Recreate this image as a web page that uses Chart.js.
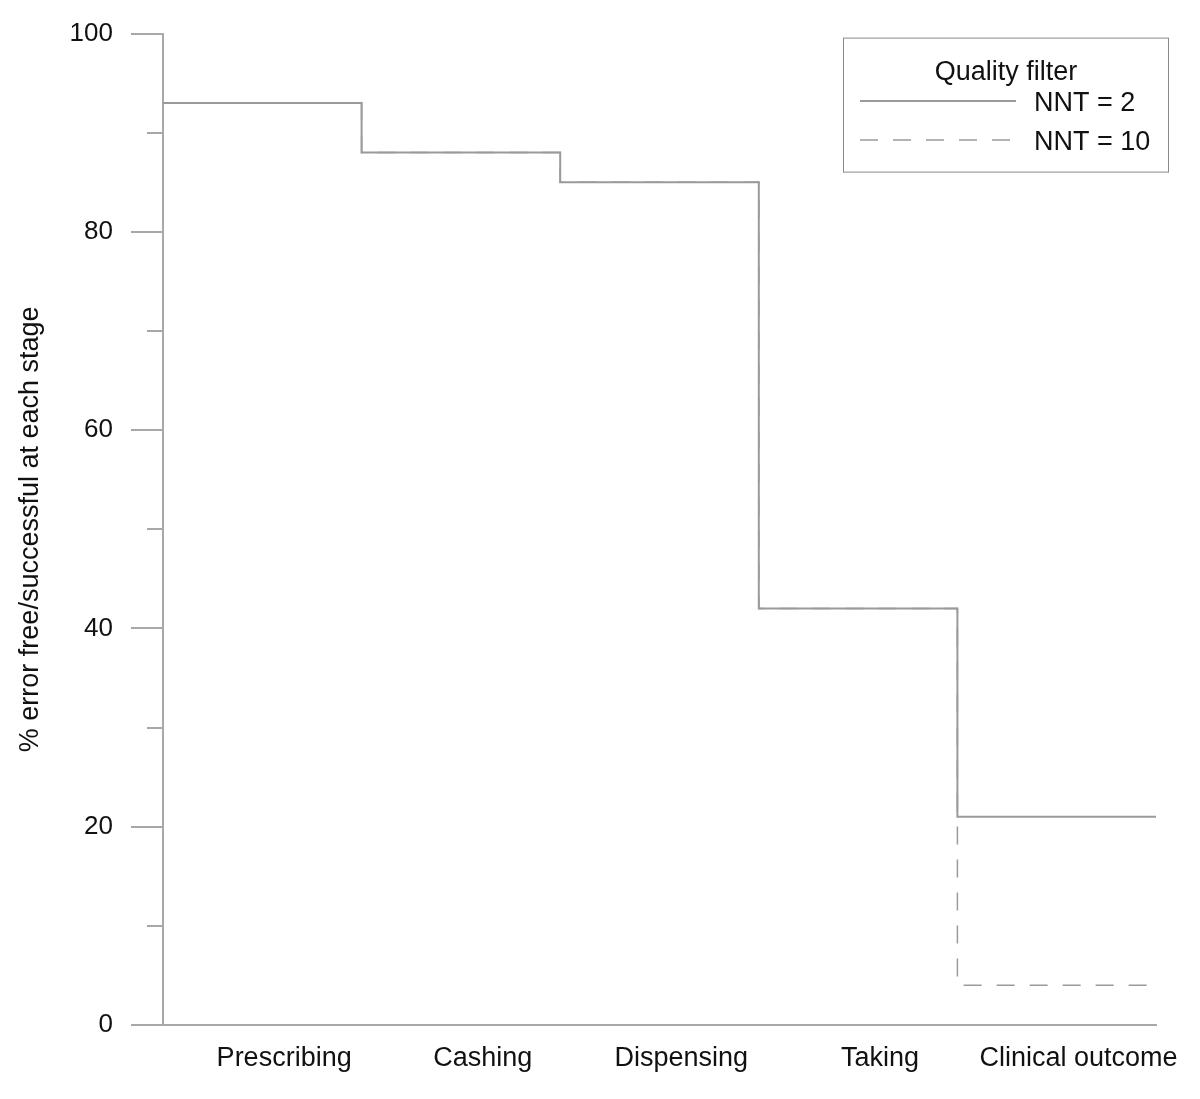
<!DOCTYPE html>
<html><head><meta charset="utf-8">
<script src="https://cdn.jsdelivr.net/npm/chart.js@4/dist/chart.umd.min.js"></script>
<style>html,body{margin:0;padding:0;background:#fff;}#wrap{width:1200px;height:1099px;}</style>
</head><body><div id="wrap"><canvas id="c" width="1200" height="1099"></canvas></div>
<script>
const stages = ["Prescribing", "Cashing", "Dispensing", "Taking", "Clinical outcome"];
const nnt2 = [93, 88, 85, 42, 21];
const nnt10 = [93, 88, 85, 42, 4];
const yTickValues = [0, 10, 20, 30, 40, 50, 60, 70, 80, 90, 100];
const seriesLabels = ["NNT = 2", "NNT = 10"];
const legendTitle = "Quality filter";
const yTitle = "% error free/successful at each stage";

const FONT = "'Liberation Sans', Arial, sans-serif";
const AXIS = '#a8a8a8';
const LINE = '#9a9a9a';
const LABEL_SHIFT = 0.61;

function steps(arr) {
  const pts = arr.map((v, i) => ({x: i, y: v}));
  pts.push({x: arr.length, y: arr[arr.length - 1]});
  return pts;
}

const minorTicks = {
  id: 'minorTicks',
  afterDraw(chart) {
    const s = chart.scales.y, ctx = chart.ctx, a = chart.chartArea;
    ctx.save();
    ctx.strokeStyle = AXIS; ctx.lineWidth = 2;
    s.ticks.forEach(t => {
      if (t.value % 20 !== 0) {
        const y = Math.round(s.getPixelForValue(t.value));
        ctx.beginPath(); ctx.moveTo(a.left - 16, y); ctx.lineTo(a.left, y); ctx.stroke();
      }
    });
    ctx.restore();
  }
};

const boxLegend = {
  id: 'boxLegend',
  afterDraw(chart) {
    const ctx = chart.ctx, a = chart.chartArea;
    const x0 = a.right - 313, y0 = a.top + 4, w = 325, h = 134;
    ctx.save();
    ctx.strokeStyle = '#8a8a8a'; ctx.lineWidth = 1;
    ctx.strokeRect(x0 + 0.5, y0 + 0.5, w, h);
    ctx.fillStyle = '#111';
    ctx.font = "27px " + FONT;
    ctx.textAlign = 'center'; ctx.textBaseline = 'alphabetic';
    ctx.fillText(legendTitle, x0 + 163, y0 + 42);
    ctx.textAlign = 'left';
    chart.data.datasets.forEach((ds, i) => {
      const yy = y0 + 63 + i * 39;
      ctx.save();
      ctx.strokeStyle = ds.borderColor; ctx.lineWidth = ds.borderWidth;
      ctx.setLineDash(ds.borderDash || []);
      ctx.beginPath(); ctx.moveTo(x0 + 17, yy + 0.5); ctx.lineTo(x0 + 173, yy + 0.5); ctx.stroke();
      ctx.restore();
      ctx.fillText(ds.label, x0 + 191, yy + 10);
    });
    ctx.restore();
  }
};

new Chart(document.getElementById('c'), {
  type: 'line',
  data: {
    datasets: [
      {label: seriesLabels[0], data: steps(nnt2), stepped: 'before', borderColor: LINE, borderWidth: 2, pointRadius: 0, fill: false},
      {label: seriesLabels[1], data: steps(nnt10), stepped: 'before', borderColor: LINE, borderWidth: 1.5, borderDash: [18, 15], pointRadius: 0, fill: false}
    ]
  },
  options: {
    responsive: false, animation: false, devicePixelRatio: 1,
    layout: {padding: {top: 33, right: 44, bottom: 0, left: 0}},
    plugins: {legend: {display: false}, tooltip: {enabled: false}},
    scales: {
      x: {
        type: 'linear', min: 0, max: stages.length,
        grid: {display: false},
        border: {display: true, color: AXIS, width: 2},
        afterBuildTicks: s => { s.ticks = stages.map((_, i) => ({value: i + LABEL_SHIFT})); },
        afterFit: s => { s.height = 74; },
        ticks: {
          autoSkip: false, maxRotation: 0, padding: 9, color: '#111',
          font: {size: 27, family: FONT},
          callback: (v, i) => stages[i]
        }
      },
      y: {
        type: 'linear', min: 0, max: 100,
        afterBuildTicks: s => { s.ticks = yTickValues.map(v => ({value: v})); },
        afterFit: s => { s.width = 163; },
        grid: {
          drawOnChartArea: false, drawTicks: true, tickLength: 32, lineWidth: 2,
          color: c => (c.tick && c.tick.value % 20 === 0) ? AXIS : 'rgba(0,0,0,0)'
        },
        border: {display: true, color: AXIS, width: 2},
        ticks: {
          padding: 18, color: '#111', font: {size: 26, family: FONT},
          callback: v => (v % 20 === 0 ? String(v) : '')
        },
        title: {display: true, text: yTitle, color: '#111', font: {size: 27, family: FONT}, padding: {top: 14, bottom: 0}}
      }
    }
  },
  plugins: [minorTicks, boxLegend]
});
</script></body></html>
